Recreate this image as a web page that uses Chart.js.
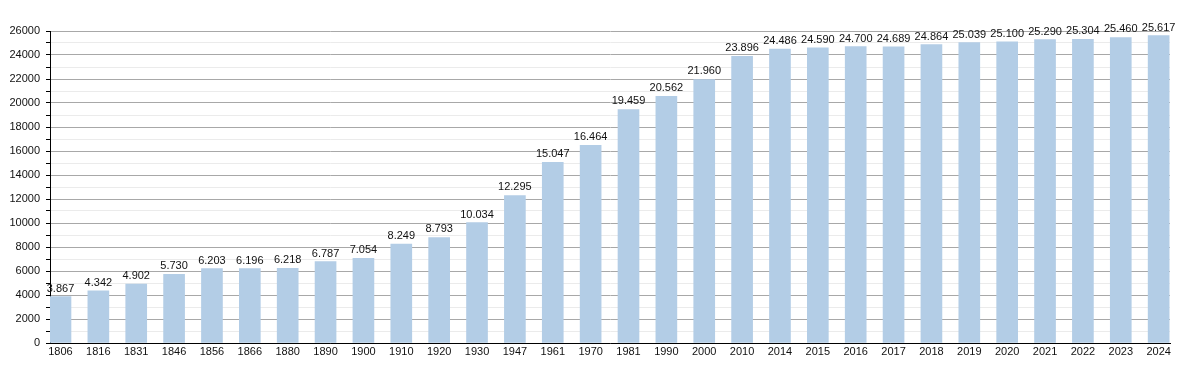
<!DOCTYPE html>
<html lang="en">
  <head>
    <meta charset="UTF-8" />
    <title>Population</title>
    <script src="https://cdn.jsdelivr.net/npm/chart.js"></script>
    <style>
      html, body { margin: 0; padding: 0; background: #fff; }
      #wrap { width: 1200px; height: 373px; }
    </style>
  </head>
  <body>
    <div id="wrap"><canvas id="popChart" width="1200" height="373"></canvas></div>
    <script>
      // census years and inhabitants
      var years = [1806, 1816, 1831, 1846, 1856, 1866, 1880, 1890, 1900, 1910,
        1920, 1930, 1947, 1961, 1970, 1981, 1990, 2000, 2010, 2014,
        2015, 2016, 2017, 2018, 2019, 2020, 2021, 2022, 2023, 2024];
      var population = [3867, 4342, 4902, 5730, 6203, 6196, 6218, 6787, 7054, 8249,
        8793, 10034, 12295, 15047, 16464, 19459, 20562, 21960, 23896, 24486,
        24590, 24700, 24689, 24864, 25039, 25100, 25290, 25304, 25460, 25617];
      var yMax = 26000;

      function fmt(n) {
        return String(n).replace(/\B(?=(\d{3})+(?!\d))/g, ".");
      }

      // labels over the bars
      var valueLabels = {
        id: "valueLabels",
        afterDatasetsDraw: function (chart) {
          var c = chart.ctx;
          var meta = chart.getDatasetMeta(0);
          c.save();
          c.font = "11px 'Liberation Sans', Arial, sans-serif";
          c.fillStyle = "#111";
          c.textAlign = "center";
          c.textBaseline = "alphabetic";
          meta.data.forEach(function (bar, i) {
            c.fillText(fmt(population[i]), bar.x, bar.y - 5);
          });
          c.restore();
        },
      };

      var ctx = document.getElementById("popChart").getContext("2d");
      var chart = new Chart(ctx, {
        type: "bar",
        data: {
          datasets: [
            {
              data: population.map(function (v, i) { return { x: i, y: v }; }),
              backgroundColor: "#b3cde6",
              borderWidth: 0,
              barThickness: 21,
            },
          ],
        },
        options: {
          responsive: false,
          animation: false,
          events: [],
          layout: { padding: { top: 31, right: 30, left: 0, bottom: 0 } },
          plugins: { legend: { display: false }, tooltip: { enabled: false } },
          scales: {
            x: {
              type: "linear",
              offset: false,
              min: -0.277,
              max: 29.3,
              afterFit: function (s) { s.height = 30; },
              afterBuildTicks: function (s) {
                s.ticks = years.map(function (y, i) { return { value: i }; });
              },
              ticks: {
                autoSkip: false,
                maxRotation: 0,
                padding: 2,
                color: "#111",
                font: { family: "'Liberation Sans', Arial, sans-serif", size: 11 },
                callback: function (v) { return years[v]; },
              },
              grid: { display: false, drawTicks: false, offset: false },
              border: { display: true, color: "#000", width: 1 },
            },
            y: {
              min: 0,
              max: yMax,
              afterFit: function (s) { s.width = 50; },
              ticks: {
                stepSize: 1000,
                autoSkip: false,
                padding: 6,
                color: "#111",
                font: { family: "'Liberation Sans', Arial, sans-serif", size: 11 },
                callback: function (v) { return v % 2000 === 0 ? v : ""; },
              },
              grid: {
                color: function (c) {
                  return c.tick && c.tick.value % 2000 === 0 ? "#a8a8a8" : "#ebebeb";
                },
                tickColor: "#000",
                tickLength: 4,
                lineWidth: 1,
              },
              border: { display: true, color: "#000", width: 1 },
            },
          },
        },
        plugins: [valueLabels],
      });
    </script>
  </body>
</html>
